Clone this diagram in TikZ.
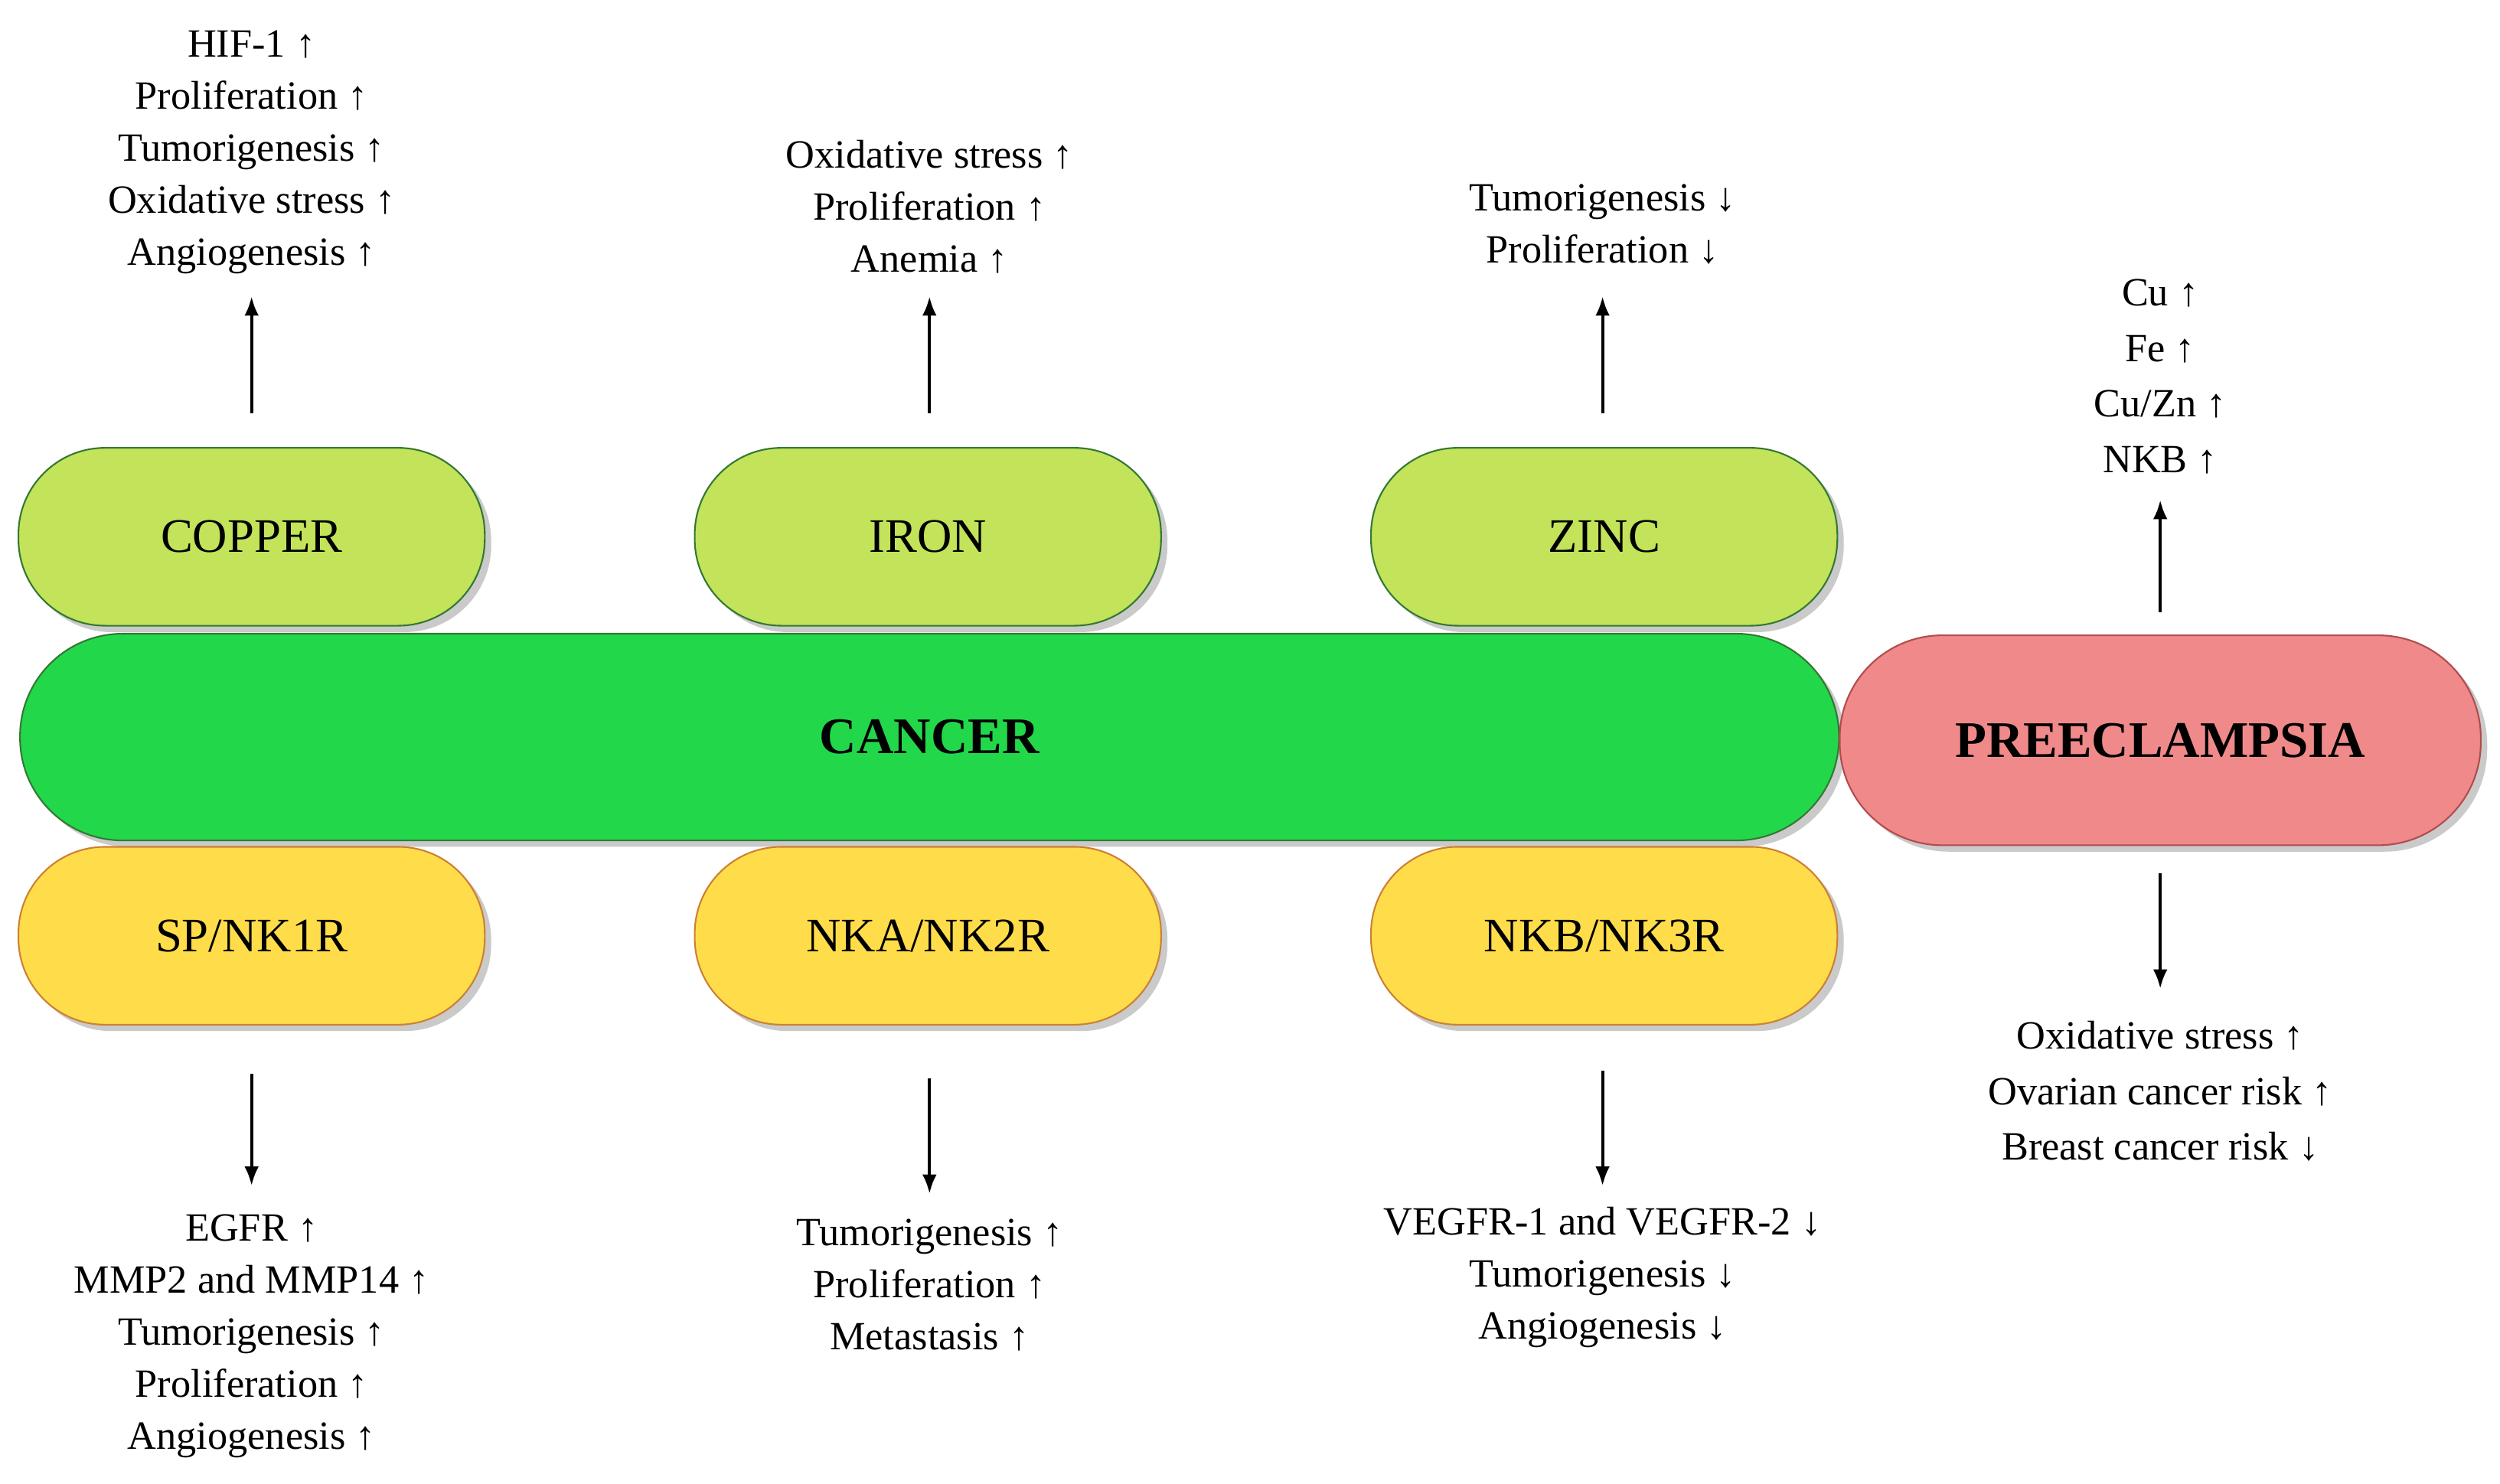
\documentclass[tikz,border=0pt]{standalone}
\usepackage{fontspec}
\setmainfont{Liberation Serif}
\usetikzlibrary{shadows,arrows.meta}
\definecolor{lgreen}{HTML}{C2E35A}
\definecolor{dgreen}{HTML}{22D84A}
\definecolor{yel}{HTML}{FFDD4A}
\definecolor{pink}{HTML}{F08A8A}
\begin{document}
\begin{tikzpicture}[x=0.5pt,y=-0.5pt,
  pill/.style={draw=black!55!green!60!gray,line width=0.5pt,rounded corners=27pt,minimum width=145.5pt,minimum height=55.5pt,inner sep=0pt,drop shadow={shadow xshift=2pt,shadow yshift=-2pt,fill=black!35,opacity=0.6},font=\fontsize{15}{18}\selectfont},
  txt/.style={align=center,inner sep=0pt,font=\fontsize{12.5}{16.25}\selectfont},
  txtp/.style={align=center,inner sep=0pt,font=\fontsize{12.5}{17.4}\selectfont},
  arr/.style={line width=1pt,-{Latex[length=6pt,width=4.5pt]}}]
\useasboundingbox (0,0) rectangle (1560,926);
\node[pill,fill=dgreen,minimum width=567.5pt,minimum height=64.5pt,rounded corners=32pt,font=\fontsize{16}{19}\selectfont\bfseries] (cancer) at (580,460) {CANCER};
\node[pill,fill=lgreen] (cu) at (157,335) {COPPER};
\node[pill,fill=lgreen] (fe) at (579,335) {IRON};
\node[pill,fill=lgreen] (zn) at (1001,335) {ZINC};
\node[pill,fill=yel,draw=orange!60!gray] (nk1) at (157,584) {SP/NK1R};
\node[pill,fill=yel,draw=orange!60!gray] (nk2) at (579,584) {NKA/NK2R};
\node[pill,fill=yel,draw=orange!60!gray] (nk3) at (1001,584) {NKB/NK3R};
\node[pill,fill=pink,draw=red!40!gray,minimum width=200pt,minimum height=65.5pt,rounded corners=32pt,font=\fontsize{16}{19}\selectfont\bfseries] (pe) at (1348,462) {PREECLAMPSIA};

\node[txt] (tcu) at (157,95) {HIF-1 ↑\\Proliferation ↑\\Tumorigenesis ↑\\Oxidative stress ↑\\Angiogenesis ↑};
\node[txt] (tfe) at (580,129) {Oxidative stress ↑\\Proliferation ↑\\Anemia ↑};
\node[txt] (tzn) at (1000,140) {Tumorigenesis ↓\\Proliferation ↓};
\node[txtp] (tpe) at (1348,235) {Cu ↑\\Fe ↑\\Cu/Zn ↑\\NKB ↑};
\node[txtp] (tpe2) at (1348,681) {Oxidative stress ↑\\Ovarian cancer risk ↑\\Breast cancer risk ↓};
\node[txt] (tnk1) at (157,834) {EGFR ↑\\MMP2 and MMP14 ↑\\Tumorigenesis ↑\\Proliferation ↑\\Angiogenesis ↑};
\node[txt] (tnk2) at (580,802) {Tumorigenesis ↑\\Proliferation ↑\\Metastasis ↑};
\node[txt] (tnk3) at (1000,797) {VEGFR-1 and VEGFR-2 ↓\\Tumorigenesis ↓\\Angiogenesis ↓};

\coordinate (a1) at (157,258); \coordinate (a1e) at (157,185);
\coordinate (a2) at (580,258); \coordinate (a2e) at (580,185);
\coordinate (a3) at (1000,258); \coordinate (a3e) at (1000,185);
\coordinate (a4) at (1348,382); \coordinate (a4e) at (1348,312);
\coordinate (b1) at (157,670); \coordinate (b1e) at (157,740);
\coordinate (b2) at (580,673); \coordinate (b2e) at (580,745);
\coordinate (b3) at (1000,668); \coordinate (b3e) at (1000,740);
\coordinate (b4) at (1348,545); \coordinate (b4e) at (1348,617);
\foreach \s in {a1,a2,a3,a4,b1,b2,b3,b4}{\draw[arr] (\s) -- (\s e);}
\end{tikzpicture}
\end{document}
